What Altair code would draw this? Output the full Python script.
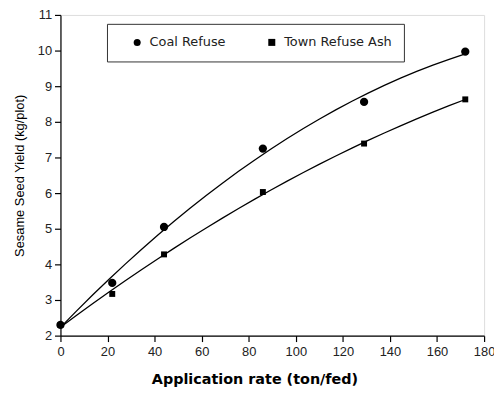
import altair as alt
import pandas as pd

# Data
rates = [0, 22, 44, 86, 129, 172]
coal_refuse = [2.3, 3.48, 5.05, 7.25, 8.56, 9.97]
town_refuse_ash = [2.3, 3.17, 4.28, 6.03, 7.39, 8.63]
series_names = ["Coal Refuse", "Town Refuse Ash"]

x_major = [0, 20, 40, 60, 80, 100, 120, 140, 160, 180]
y_major = [2, 3, 4, 5, 6, 7, 8, 9, 10, 11]

df = pd.DataFrame({
    "rate": rates * 2,
    "yield": coal_refuse + town_refuse_ash,
    "series": [series_names[0]] * len(rates) + [series_names[1]] * len(rates),
})

W, H = 428, 324
xscale = alt.Scale(domain=[0, 180], nice=False, zero=False)
yscale = alt.Scale(domain=[2, 11], nice=False, zero=False)

base = alt.Chart(df)

x_axis = alt.Axis(
    values=x_major, grid=False, orient="bottom", tickSize=6, tickColor="black",
    tickWidth=1.2, domainColor="black", domainWidth=1.2,
    labelFlush=False, labelOverlap=False,
    labelFont="Liberation Sans", labelFontSize=13, labelColor="#222",
    labelPadding=4, title="Application rate (ton/fed)",
    titleFont="DejaVu Sans", titleFontSize=14.5, titleFontWeight="bold",
    titleColor="black", titlePadding=14, titleX=196, titleAnchor="middle",
)
y_axis = alt.Axis(
    values=y_major, grid=False, orient="left", tickSize=6, tickColor="black",
    tickWidth=1.2, domainColor="black", domainWidth=1.2,
    labelFlush=False, labelOverlap=False,
    labelFont="Liberation Sans", labelFontSize=13, labelColor="#222",
    labelPadding=3, title="Sesame Seed Yield (kg/plot)",
    titleFont="Liberation Sans", titleFontSize=13, titleFontWeight="normal",
    titleColor="black", titlePadding=11,
)

shape_enc = alt.Shape(
    "series:N",
    scale=alt.Scale(domain=series_names, range=["circle", "square"]),
    legend=alt.Legend(
        title=None, orient="none", legendX=47, legendY=9,
        direction="horizontal", strokeColor="#333", padding=12,
        fillColor="white", labelFont="DejaVu Sans", labelFontSize=13,
        labelColor="#222", symbolFillColor="black", symbolStrokeColor="black",
        symbolSize=50, symbolOffset=12, columnPadding=28, labelOffset=6,
    ),
)

lines = base.transform_regression(
    "rate", "yield", method="poly", order=2, groupby=["series"], extent=[0, 172]
).mark_line(color="black", strokeWidth=1.3).encode(
    x=alt.X("rate:Q", scale=xscale, axis=x_axis),
    y=alt.Y("yield:Q", scale=yscale, axis=y_axis),
    detail="series:N",
)

coal_pts = base.transform_filter(
    alt.datum.series == series_names[0]
).mark_point(filled=True, color="black", opacity=1, size=70).encode(
    x=alt.X("rate:Q", scale=xscale, axis=x_axis),
    y=alt.Y("yield:Q", scale=yscale, axis=y_axis),
    shape=shape_enc,
)
town_pts = base.transform_filter(
    alt.datum.series == series_names[1]
).mark_point(filled=True, color="black", opacity=1, size=36).encode(
    x=alt.X("rate:Q", scale=xscale, axis=x_axis),
    y=alt.Y("yield:Q", scale=yscale, axis=y_axis),
    shape=shape_enc,
)

chart = alt.layer(lines, coal_pts, town_pts).properties(
    width=W, height=H,
    autosize=alt.AutoSizeParams(type="none"),
    padding={"left": 53, "top": 5, "right": 10, "bottom": 60},
).configure_view(stroke="black", strokeWidth=1.2).configure(background="white")

chart.save("out.html", embed_options={"renderer": "svg", "actions": False})
